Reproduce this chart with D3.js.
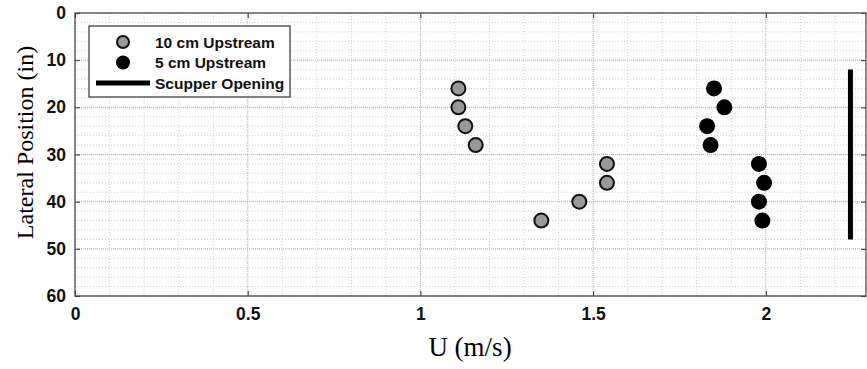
<!DOCTYPE html>
<html>
<head>
<meta charset="utf-8">
<script src="https://cdn.jsdelivr.net/npm/d3@7"></script>
<style>
  body { margin: 0; background: #fff; }
  .tick text { font-family: "Liberation Sans", Arial, sans-serif; font-weight: bold; font-size: 17.5px; fill: #111; }
</style>
</head>
<body>
<div id="chart"></div>
<script>
// Data
const upstream10U = [1.11, 1.11, 1.13, 1.16, 1.54, 1.54, 1.46, 1.35];
const upstream10Y = [16, 20, 24, 28, 32, 36, 40, 44];
const upstream5U = [1.85, 1.88, 1.83, 1.84, 1.98, 1.995, 1.98, 1.99];
const upstream5Y = [16, 20, 24, 28, 32, 36, 40, 44];
const scupperU = [2.245, 2.245];
const scupperY = [12, 48];
const xTicks = [0, 0.5, 1, 1.5, 2];
const yTicks = [0, 10, 20, 30, 40, 50, 60];

const W = 867, H = 369;
const margin = { top: 13, right: 1, bottom: 73, left: 75 },
    width = W - margin.left - margin.right,
    height = H - margin.top - margin.bottom;

const svg = d3.select("#chart").append("svg")
    .attr("width", W)
    .attr("height", H)
    .append("g")
    .attr("transform", `translate(${margin.left},${margin.top})`);

const x = d3.scaleLinear().domain([0, 2.29]).range([0, width]);
const y = d3.scaleLinear().domain([0, 60]).range([0, height]);

// Minor grid
svg.append("g")
    .selectAll("line")
    .data(d3.range(0, 2.3, 0.1))
    .enter().append("line")
    .attr("x1", d => x(d)).attr("x2", d => x(d))
    .attr("y1", 0).attr("y2", height)
    .attr("stroke", "#d4d4d4").attr("stroke-dasharray", "1,2");

svg.append("g")
    .selectAll("line")
    .data(d3.range(0, 61, 2))
    .enter().append("line")
    .attr("x1", 0).attr("x2", width)
    .attr("y1", d => y(d)).attr("y2", d => y(d))
    .attr("stroke", "#d4d4d4").attr("stroke-dasharray", "1,2");

// Major grid
svg.append("g")
    .selectAll("line")
    .data(xTicks)
    .enter().append("line")
    .attr("x1", d => x(d)).attr("x2", d => x(d))
    .attr("y1", 0).attr("y2", height)
    .attr("stroke", "#bbb").attr("stroke-dasharray", "1,1");

svg.append("g")
    .selectAll("line")
    .data(yTicks)
    .enter().append("line")
    .attr("x1", 0).attr("x2", width)
    .attr("y1", d => y(d)).attr("y2", d => y(d))
    .attr("stroke", "#bbb").attr("stroke-dasharray", "1,1");

// Axes
svg.append("g")
    .attr("transform", `translate(0,${height})`)
    .call(d3.axisBottom(x).tickValues(xTicks).tickFormat(d3.format("")).tickSizeInner(-5).tickSizeOuter(0).tickPadding(12));
svg.append("g")
    .call(d3.axisLeft(y).tickValues(yTicks).tickSizeInner(-5).tickSizeOuter(0).tickPadding(9));
svg.append("g")
    .call(d3.axisTop(x).tickValues(xTicks).tickFormat("").tickSizeInner(-5).tickSizeOuter(0));
svg.append("g")
    .attr("transform", `translate(${width},0)`)
    .call(d3.axisRight(y).tickValues(yTicks).tickFormat("").tickSizeInner(-5).tickSizeOuter(0));
svg.selectAll(".domain").remove();
svg.selectAll(".tick line").attr("stroke", "#333");

// Box
svg.append("rect")
    .attr("x", 0).attr("y", 0)
    .attr("width", width).attr("height", height)
    .attr("fill", "none").attr("stroke", "#444").attr("stroke-width", 1.2);

// Scupper opening
svg.append("line")
    .attr("x1", x(scupperU[0])).attr("x2", x(scupperU[1]))
    .attr("y1", y(scupperY[0])).attr("y2", y(scupperY[1]))
    .attr("stroke", "#000").attr("stroke-width", 5);

// Points
svg.selectAll(".p10")
    .data(upstream10U.map((u, i) => ({ u, v: upstream10Y[i] })))
    .enter().append("circle")
    .attr("class", "p10")
    .attr("cx", d => x(d.u)).attr("cy", d => y(d.v))
    .attr("r", 7)
    .attr("fill", "#999").attr("stroke", "#111").attr("stroke-width", 2);

svg.selectAll(".p5")
    .data(upstream5U.map((u, i) => ({ u, v: upstream5Y[i] })))
    .enter().append("circle")
    .attr("class", "p5")
    .attr("cx", d => x(d.u)).attr("cy", d => y(d.v))
    .attr("r", 8)
    .attr("fill", "#000");

// Legend
const legend = svg.append("g").attr("transform", "translate(14,13)");
legend.append("rect")
    .attr("width", 201).attr("height", 71)
    .attr("fill", "#fff").attr("stroke", "#333").attr("stroke-width", 1.2);
const legendItems = ["10 cm Upstream", "5 cm Upstream", "Scupper Opening"];
legendItems.forEach((t, i) => {
    const cy = 16 + i * 20.5;
    if (i === 0) {
        legend.append("circle").attr("cx", 34).attr("cy", cy).attr("r", 6)
            .attr("fill", "#999").attr("stroke", "#111").attr("stroke-width", 2);
    } else if (i === 1) {
        legend.append("circle").attr("cx", 34).attr("cy", cy).attr("r", 7).attr("fill", "#000");
    } else {
        legend.append("line").attr("x1", 7).attr("x2", 61).attr("y1", cy).attr("y2", cy)
            .attr("stroke", "#000").attr("stroke-width", 5);
    }
    legend.append("text")
        .attr("x", 66).attr("y", cy + 5.5)
        .attr("font-family", "Liberation Sans, Arial, sans-serif")
        .attr("font-weight", "bold").attr("font-size", "15.5px")
        .attr("fill", "#111")
        .text(t);
});

// Axis titles
svg.append("text")
    .attr("x", 470 - margin.left).attr("y", height + 60)
    .attr("text-anchor", "middle")
    .attr("font-family", "Liberation Serif, Times New Roman, serif")
    .attr("font-size", "27px")
    .text("U (m/s)");

svg.append("text")
    .attr("transform", `translate(${-42},${129.5}) rotate(-90)`)
    .attr("text-anchor", "middle")
    .attr("font-family", "Liberation Serif, Times New Roman, serif")
    .attr("font-size", "24px")
    .text("Lateral Position (in)");
</script>
</body>
</html>
